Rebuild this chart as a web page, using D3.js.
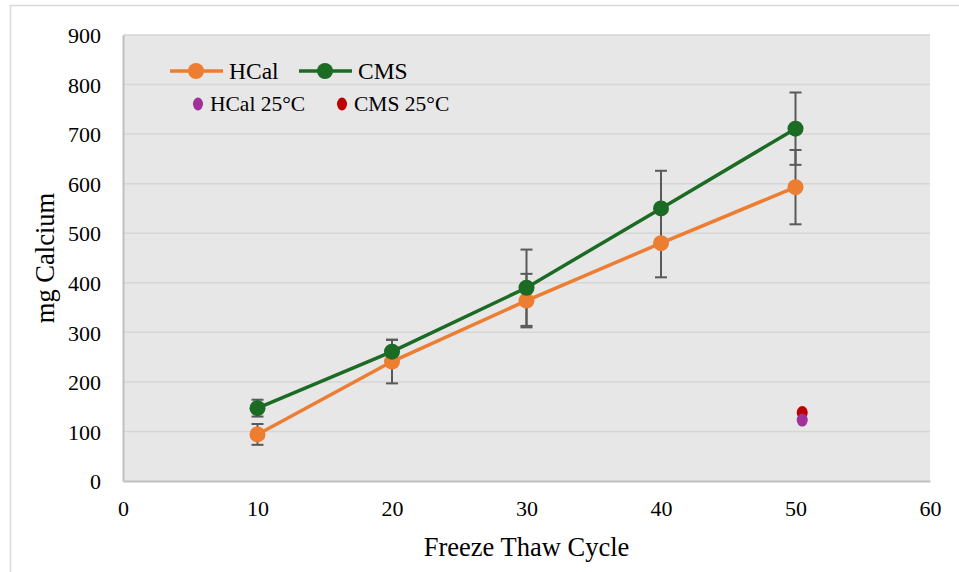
<!DOCTYPE html>
<html>
<head>
<meta charset="utf-8">
<script src="https://cdn.jsdelivr.net/npm/d3@7"></script>
<style>
  body { margin: 0; background: #fff; }
  text { font-family: "Liberation Serif", "Times New Roman", serif; fill: #000; }
</style>
</head>
<body>
<svg width="959" height="572"></svg>
<script>
// data
var cycles = [10, 20, 30, 40, 50];
var hcal = [94, 241, 364, 480, 593];
var hcalErr = [21, 44, 54, 69, 75];
var cms = [147, 261, 390, 550, 711];
var cmsErr = [17, 24, 77, 76, 73];
var hcal25 = [{x: 50.5, y: 123}];
var cms25 = [{x: 50.5, y: 138}];
var xTicks = [0, 10, 20, 30, 40, 50, 60];
var yTicks = [0, 100, 200, 300, 400, 500, 600, 700, 800, 900];

var svg = d3.select("svg");

// outer frame
svg.append("path")
    .attr("d", "M10.5,572 V5.5 H959")
    .attr("fill", "none")
    .attr("stroke", "#d9d9d9")
    .attr("stroke-width", 1.5);

var pLeft = 123, pTop = 35, pRight = 930, pBottom = 481;

var x = d3.scaleLinear().domain([0, 60]).range([pLeft, pRight]);
var y = d3.scaleLinear().domain([0, 900]).range([pBottom, pTop]);

svg.append("rect")
    .attr("x", pLeft).attr("y", pTop)
    .attr("width", pRight - pLeft).attr("height", pBottom - pTop)
    .attr("fill", "#e7e7e7");

// gridlines
svg.append("g").selectAll("line")
    .data(yTicks.filter(d => d > 0))
    .enter().append("line")
    .attr("x1", pLeft).attr("x2", pRight)
    .attr("y1", d => y(d)).attr("y2", d => y(d))
    .attr("stroke", "#d6d6d6")
    .attr("stroke-width", 1.5);

// axes
var yAxis = svg.append("g")
    .attr("transform", "translate(" + pLeft + ",0)")
    .call(d3.axisLeft(y).tickValues(yTicks).tickSize(0).tickPadding(22));
var xAxis = svg.append("g")
    .attr("transform", "translate(0," + pBottom + ")")
    .call(d3.axisBottom(x).tickValues(xTicks).tickSize(0).tickPadding(19));

[xAxis, yAxis].forEach(a => {
    a.attr("font-family", "'Liberation Serif', serif").attr("font-size", 22);
    a.select(".domain").attr("stroke", "#bfbfbf").attr("stroke-width", 2);
    a.selectAll("text").attr("fill", "#000");
});
yAxis.selectAll("text").attr("dy", "0.35em");

// axis titles
svg.append("text")
    .attr("x", (pLeft + pRight) / 2).attr("y", 556)
    .attr("text-anchor", "middle")
    .style("font-size", "26.5px")
    .text("Freeze Thaw Cycle");
svg.append("text")
    .attr("transform", "translate(54," + (pTop + pBottom) / 2 + ") rotate(-90)")
    .attr("text-anchor", "middle")
    .style("font-size", "26.5px")
    .text("mg Calcium");

var series = [
    {name: "HCal", vals: hcal, err: hcalErr, color: "#ed7d31"},
    {name: "CMS", vals: cms, err: cmsErr, color: "#1c6b24"}
];

// error bars
series.forEach(s => {
    var g = svg.append("g").attr("stroke", "#595959").attr("stroke-width", 2);
    cycles.forEach((c, i) => {
        var hi = s.vals[i] + s.err[i], lo = s.vals[i] - s.err[i];
        g.append("line").attr("x1", x(c)).attr("x2", x(c)).attr("y1", y(hi)).attr("y2", y(lo));
        g.append("line").attr("x1", x(c) - 6).attr("x2", x(c) + 6).attr("y1", y(hi)).attr("y2", y(hi));
        g.append("line").attr("x1", x(c) - 6).attr("x2", x(c) + 6).attr("y1", y(lo)).attr("y2", y(lo));
    });
});

var line = d3.line().x(d => x(d[0])).y(d => y(d[1]));

series.forEach(s => {
    var pts = cycles.map((c, i) => [c, s.vals[i]]);
    svg.append("path")
        .datum(pts)
        .attr("d", line)
        .attr("fill", "none")
        .attr("stroke", s.color)
        .attr("stroke-width", 3.5);
    svg.append("g").selectAll("circle")
        .data(pts)
        .enter().append("circle")
        .attr("cx", d => x(d[0]))
        .attr("cy", d => y(d[1]))
        .attr("r", 8)
        .attr("fill", s.color);
});

// 25°C points
svg.selectAll(".cms25").data(cms25).enter().append("ellipse")
    .attr("cx", d => x(d.x)).attr("cy", d => y(d.y))
    .attr("rx", 5.5).attr("ry", 6.5)
    .attr("fill", "#c00000");
svg.selectAll(".hcal25").data(hcal25).enter().append("ellipse")
    .attr("cx", d => x(d.x)).attr("cy", d => y(d.y))
    .attr("rx", 5.5).attr("ry", 6.5)
    .attr("fill", "#a0309a");

// legend
var leg1 = [{name: "HCal", color: "#ed7d31", x: 170}, {name: "CMS", color: "#1c6b24", x: 299}];
leg1.forEach(l => {
    svg.append("line")
        .attr("x1", l.x).attr("x2", l.x + 53)
        .attr("y1", 71).attr("y2", 71)
        .attr("stroke", l.color).attr("stroke-width", 3.5);
    svg.append("circle").attr("cx", l.x + 26).attr("cy", 71).attr("r", 8).attr("fill", l.color);
    svg.append("text").attr("x", l.x + 59).attr("y", 79)
        .style("font-size", "23.5px").text(l.name);
});
var leg2 = [{name: "HCal 25°C", color: "#a0309a", x: 198}, {name: "CMS 25°C", color: "#c00000", x: 342}];
leg2.forEach(l => {
    svg.append("ellipse").attr("cx", l.x).attr("cy", 104).attr("rx", 5).attr("ry", 6.5).attr("fill", l.color);
    svg.append("text").attr("x", l.x + 12).attr("y", 111)
        .style("font-size", "21.5px").text(l.name);
});
</script>
</body>
</html>
